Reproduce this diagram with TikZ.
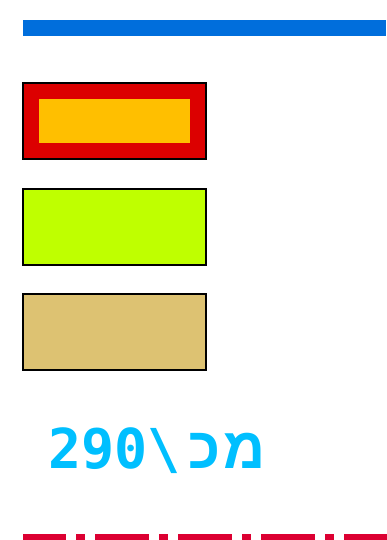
\documentclass[tikz,border=0pt]{standalone}
\usepackage{fontspec}
\TeXXeTstate=1
\newfontfamily\digitmono{DejaVu Sans Mono Bold}
\newfontfamily\hebsans[Script=Hebrew]{Liberation Sans Bold}
\definecolor{barblue}{RGB}{0,110,220}
\definecolor{boxred}{RGB}{220,0,0}
\definecolor{boxorange}{RGB}{255,191,0}
\definecolor{boxlime}{RGB}{191,255,0}
\definecolor{boxtan}{RGB}{221,194,114}
\definecolor{txtcyan}{RGB}{0,191,255}
\definecolor{linecrimson}{RGB}{220,0,50}
\tikzset{
  swatch/.style={draw=black, line width=1.5pt},
}
\begin{document}
\begin{tikzpicture}[x=1pt,y=-1pt]
\useasboundingbox (0,0) rectangle (386,540);
% top bar
\fill[barblue] (23,20) rectangle (386,36);
% swatches
\filldraw[swatch, fill=boxred] (23,83) rectangle (206,159);
\fill[boxorange] (39,99) rectangle (190,143);
\filldraw[swatch, fill=boxlime] (23,189) rectangle (206,265);
\filldraw[swatch, fill=boxtan] (23,294) rectangle (206,370);
% label
\node[anchor=base west, inner sep=0pt, text=txtcyan, font=\fontsize{55}{60}\selectfont] (lbl) at (48,468) {\beginR{\hebsans\fontsize{58}{60}\selectfont מ\kern3pt כ}\kern8pt{\digitmono\textbackslash}\beginL{\digitmono 290}\endL\endR};
% bottom dash-dot line
\draw[linecrimson, line width=6pt, dash pattern=on 54pt off 10pt on 9pt off 10pt, dash phase=11pt] (23,537) -- (390,537);
\end{tikzpicture}
\end{document}
